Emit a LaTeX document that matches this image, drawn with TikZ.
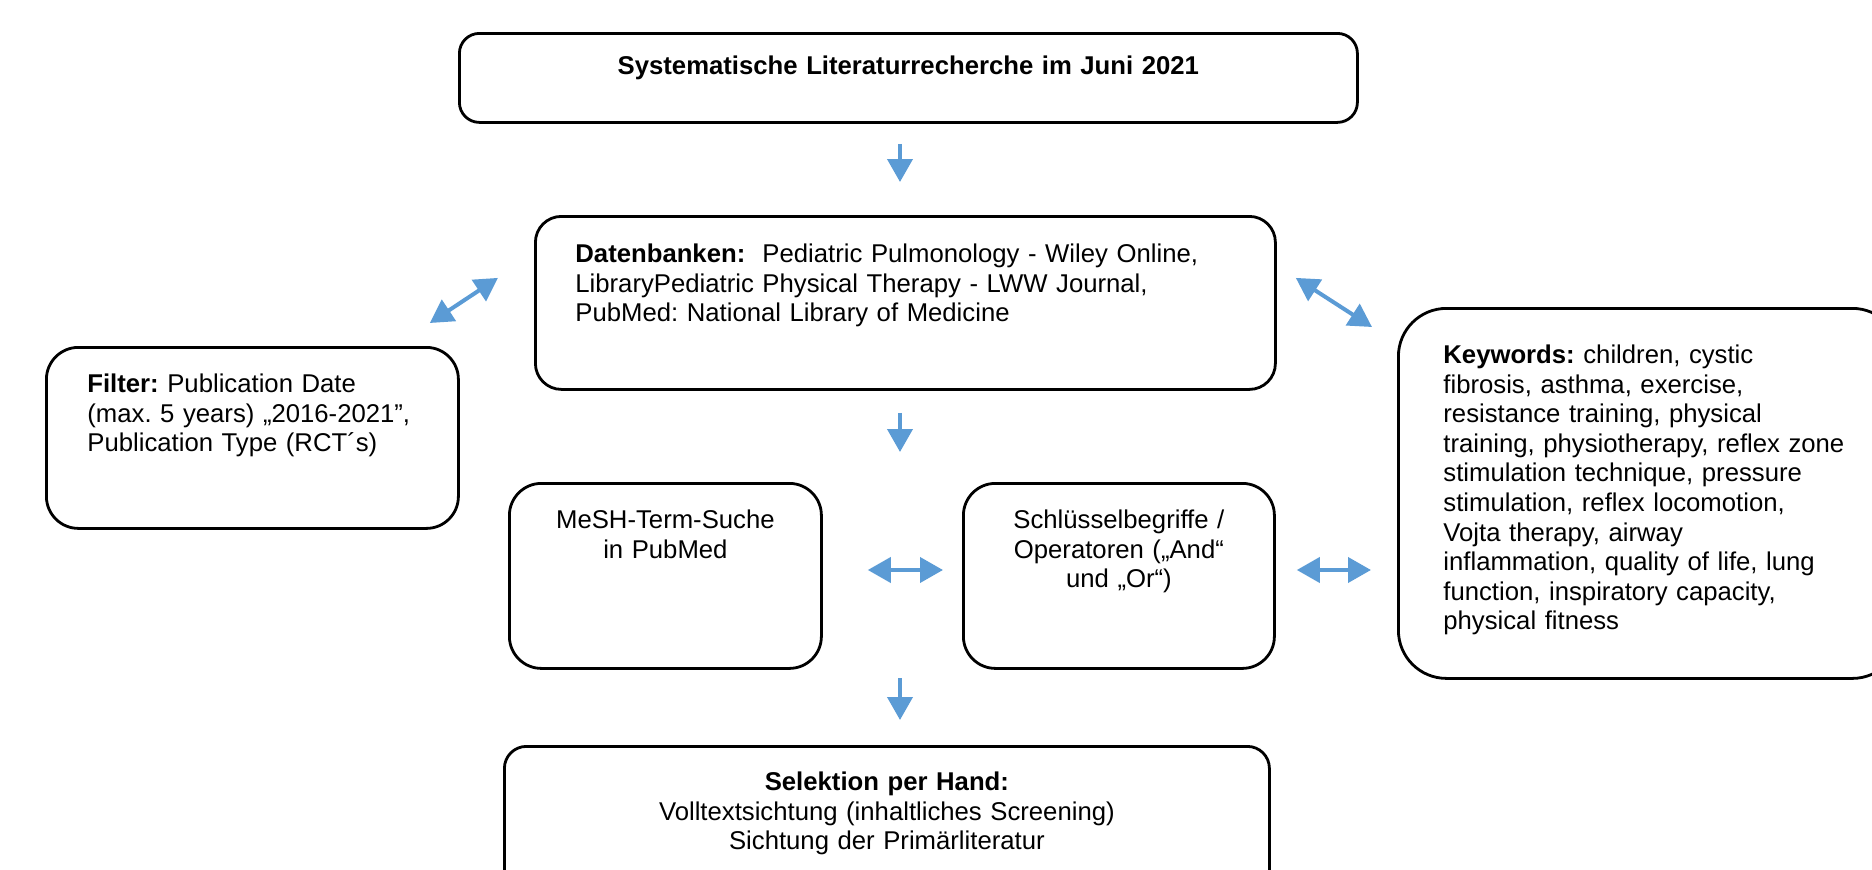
\documentclass[tikz,border=0pt]{standalone}
\usepackage{fontspec}
\setmainfont{Liberation Sans}
\usetikzlibrary{arrows.meta,positioning}
\definecolor{arrowblue}{HTML}{5B9BD5}
\frenchspacing

\begin{document}
\begin{tikzpicture}[x=1pt,y=1pt,font=\fontsize{25.7pt}{29.6pt}\selectfont]
\tikzstyle{box} = [draw, line width=2.8pt, anchor=north west, inner ysep=0pt, align=left]
\tikzstyle{flow} = [draw=arrowblue, line width=4pt, -{Triangle[length=23pt,width=25pt]}]
\tikzstyle{twoway} = [flow, {Triangle[length=23pt,width=25pt]}-{Triangle[length=23pt,width=25pt]}]
\useasboundingbox (0,0) rectangle (1872,-870);
\clip (0,0) rectangle (1872,-870);
% boxes
\node[box, align=center, rounded corners=20pt, inner xsep=20pt, text width=858pt, text height=41pt, text depth=48pt] (title) at (458,-32)
  {\textbf{Systematische Literaturrecherche im Juni 2021}};
\node[box, rounded corners=26pt, inner xsep=40pt, text width=660pt, text height=46pt, text depth=127pt] (db) at (534,-215)
  {\textbf{Datenbanken:}\ \ Pediatric Pulmonology - Wiley Online,\\
   LibraryPediatric Physical Therapy - LWW Journal,\\
   PubMed: National Library of Medicine};
\node[box, rounded corners=32pt, inner xsep=41pt, text width=330pt, text height=45pt, text depth=136pt] (filter) at (45,-346)
  {\textbf{Filter:} Publication Date\\
   (max. 5 years) „2016-2021”,\\
   Publication Type (RCT´s)};
\node[box, rounded corners=48pt, inner xsep=45pt, text width=412pt, text height=55pt, text depth=315pt] (kw) at (1397,-307)
  {\textbf{Keywords:} children, cystic\\
   fibrosis, asthma, exercise,\\
   resistance training, physical\\
   training, physiotherapy, reflex zone\\
   stimulation technique, pressure\\
   stimulation, reflex locomotion,\\
   Vojta therapy, airway\\
   inflammation, quality of life, lung\\
   function, inspiratory capacity,\\
   physical fitness};
\node[box, align=center, rounded corners=32pt, inner xsep=16pt, text width=280pt, text height=45pt, text depth=140pt] (mesh) at (508,-482)
  {MeSH-Term-Suche\\ in PubMed};
\node[box, align=center, rounded corners=32pt, inner xsep=16pt, text width=279pt, text height=45pt, text depth=140pt] (schl) at (962,-482)
  {Schlüsselbegriffe /\\ Operatoren („And“\\ und „Or“)};
\node[box, align=center, rounded corners=22pt, inner xsep=20pt, text width=725pt, text height=44pt, text depth=110pt] (sel) at (503,-745)
  {\textbf{Selektion per Hand:}\\
   Volltextsichtung (inhaltliches Screening)\\
   Sichtung der Primärliteratur};
% arrows
\coordinate (mid) at (900,-570);
\draw[flow, shorten <=20pt, shorten >=33pt] (title.south -| mid) -- (db.north -| mid);
\draw[flow, shorten <=22pt, shorten >=118pt] (db.south -| mid) -- (mid);
\draw[flow, shorten <=108pt, shorten >=25pt] (mid) -- (sel.north -| mid);
\draw[twoway, shorten <=45pt, shorten >=19pt] (mesh.east |- mid) -- (schl.west |- mid);
\draw[twoway, shorten <=21pt, shorten >=26pt] (schl.east |- mid) -- (kw.west |- mid);
\draw[twoway] ([shift={(-30pt,23pt)}]filter.north east) -- ([shift={(-36pt,25pt)}]db.west);
\draw[twoway] ([shift={(19pt,25pt)}]db.east) -- ([shift={(-25pt,-20pt)}]kw.north west);
\end{tikzpicture}
\end{document}
